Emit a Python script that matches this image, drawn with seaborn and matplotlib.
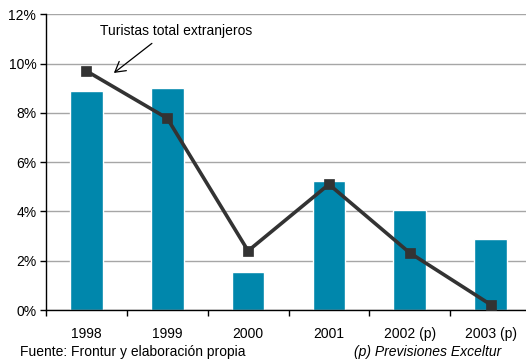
import matplotlib
matplotlib.use("Agg")
import matplotlib.pyplot as plt
from matplotlib.ticker import FixedLocator, PercentFormatter
import seaborn as sns
import pandas as pd

years = ["1998", "1999", "2000", "2001", "2002 (p)", "2003 (p)"]
bar_values = [8.9, 9.0, 1.55, 5.25, 4.05, 2.9]
line_values = [9.7, 7.78, 2.4, 5.1, 2.32, 0.22]
y_ticks = [0, 2, 4, 6, 8, 10, 12]

df = pd.DataFrame({"year": years, "bar": bar_values, "line": line_values})

sns.set_theme(style="white")
plt.rcParams["font.family"] = ["Liberation Sans", "DejaVu Sans"]

fig = plt.figure(figsize=(5.26, 3.63), dpi=100)
W, H = 526, 363
left, right, top, bottom = 46, 531, 14.3, 310
ax = fig.add_axes([left / W, 1 - bottom / H, (right - left) / W, (bottom - top) / H])

sns.barplot(data=df, x="year", y="bar", color="#0087AC", width=0.405,
            saturation=1, ax=ax, zorder=2)
sns.pointplot(data=df, x="year", y="line", color="#333333", markers="s",
              markersize=6, linewidth=2.6, ax=ax, zorder=3)

ax.set_xlim(-0.5, len(years) - 0.5)
ax.set_ylim(0, 12)
ax.yaxis.set_major_locator(FixedLocator(y_ticks))
ax.yaxis.set_major_formatter(PercentFormatter(decimals=0))
ax.grid(axis="y", color="#A6A6A6", linewidth=1.0, zorder=0)
ax.set_axisbelow(True)

for s in ("top", "right"):
    ax.spines[s].set_visible(False)
for s in ("left", "bottom"):
    ax.spines[s].set_color("black")
    ax.spines[s].set_linewidth(1.0)

ax.set_xlabel("")
ax.set_ylabel("")
ax.tick_params(axis="x", which="major", length=0, pad=12, labelsize=10, colors="black")
ax.xaxis.set_minor_locator(FixedLocator([i + 0.5 for i in range(-1, len(years))]))
ax.tick_params(axis="x", which="minor", length=4, width=1, color="black", direction="out", bottom=True)
ax.tick_params(axis="y", which="major", length=4, width=1, color="black", direction="out",
               left=True, labelsize=10, pad=3, colors="black")

# series label with a pointer to the first point of the line
ax.text(0.17, 11.33, "Turistas total extranjeros", fontsize=10, color="black",
        va="center", ha="left")
ax.annotate("", xy=(0.34, 9.62), xytext=(0.81, 10.82),
            arrowprops=dict(arrowstyle="->,head_length=0.6,head_width=0.35",
                            color="black", lw=0.9, shrinkA=0, shrinkB=0),
            annotation_clip=False)

fig.text(20 / W, 1 - 352 / H, "Fuente: Frontur y elaboración propia",
         fontsize=10, va="center", ha="left", color="black")
fig.text(501 / W, 1 - 352 / H, "(p) Previsiones Exceltur",
         fontsize=10, style="italic", va="center", ha="right", color="black")

fig.savefig("out.png", dpi=100)
